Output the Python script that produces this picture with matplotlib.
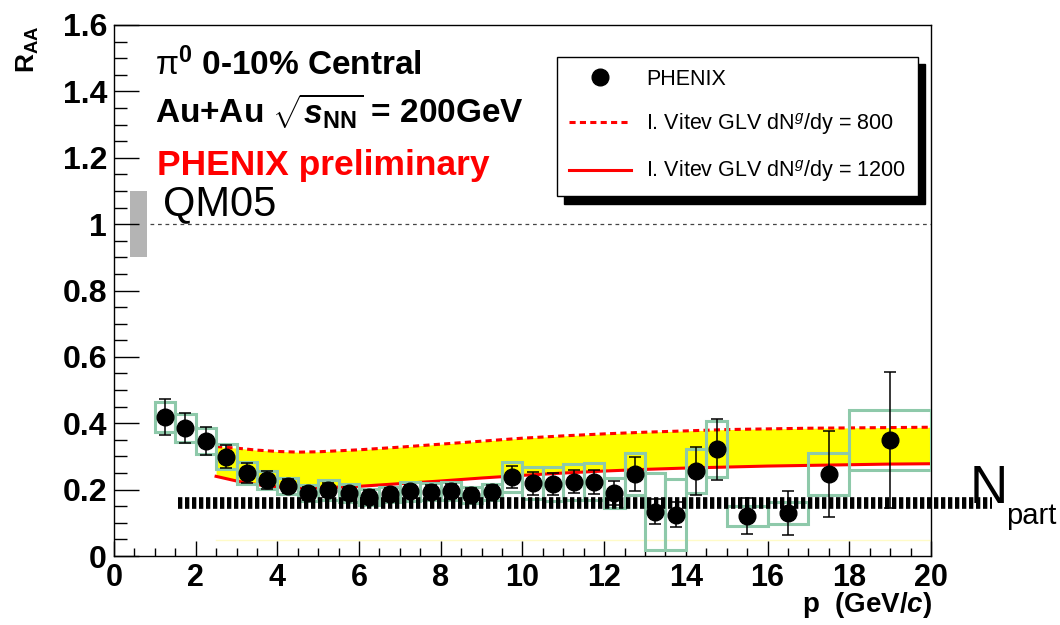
import numpy as np
import matplotlib.pyplot as plt
from matplotlib.patches import Rectangle
from matplotlib.lines import Line2D
from matplotlib.ticker import MultipleLocator

plt.rcParams["font.family"] = ["Liberation Sans", "DejaVu Sans"]
plt.rcParams["mathtext.fontset"] = "custom"
plt.rcParams["mathtext.rm"] = "Liberation Sans"
plt.rcParams["mathtext.it"] = "Liberation Sans:italic"
plt.rcParams["mathtext.bf"] = "Liberation Sans:bold"
plt.rcParams["mathtext.bfit"] = "Liberation Sans:bold:italic"

# ---- pi0 R_AA, 0-10% central Au+Au ----
pt = [1.25, 1.75, 2.25, 2.75, 3.25, 3.75, 4.25, 4.75, 5.25, 5.75, 6.25, 6.75,
      7.25, 7.75, 8.25, 8.75, 9.25, 9.75, 10.25, 10.75, 11.25, 11.75, 12.25,
      12.75, 13.25, 13.75, 14.25, 14.75, 15.5, 16.5, 17.5, 19.0]
raa = [0.419, 0.386, 0.347, 0.299, 0.251, 0.230, 0.211, 0.189, 0.199, 0.189,
       0.179, 0.186, 0.195, 0.194, 0.196, 0.184, 0.193, 0.238, 0.219, 0.217,
       0.224, 0.224, 0.191, 0.247, 0.134, 0.125, 0.257, 0.322, 0.121, 0.129,
       0.248, 0.350]
stat = [0.054, 0.046, 0.043, 0.035, 0.030, 0.027, 0.022, 0.020, 0.020, 0.020,
        0.020, 0.020, 0.020, 0.020, 0.021, 0.021, 0.022, 0.033, 0.034, 0.033,
        0.035, 0.036, 0.036, 0.050, 0.037, 0.038, 0.072, 0.092, 0.054, 0.066,
        0.130, 0.205]
syst = [0.044, 0.041, 0.040, 0.038, 0.033, 0.027, 0.025, 0.024, 0.029, 0.027,
        0.024, 0.022, 0.028, 0.026, 0.027, 0.025, 0.024, 0.045, 0.048, 0.050,
        0.054, 0.056, 0.045, 0.062, 0.115, 0.107, 0.066, 0.084, 0.030, 0.034,
        0.063, 0.090]
bin_half = [0.25] * 28 + [0.5, 0.5, 0.5, 1.0]

# ---- GLV curves (Vitev) ----
glv_pt = [2.5, 3.0, 3.5, 4.0, 4.5, 5.0, 6.0, 7.0, 8.0, 9.0, 10.0, 11.0, 12.0,
          13.0, 14.0, 15.0, 16.0, 17.0, 18.0, 19.0, 20.0]
glv_800 = [0.330, 0.325, 0.319, 0.315, 0.313, 0.314, 0.320, 0.328, 0.337,
           0.346, 0.355, 0.362, 0.368, 0.373, 0.377, 0.381, 0.383, 0.385,
           0.386, 0.387, 0.388]
glv_1200 = [0.240, 0.226, 0.215, 0.208, 0.205, 0.205, 0.210, 0.218, 0.226,
            0.235, 0.243, 0.250, 0.256, 0.261, 0.265, 0.268, 0.271, 0.273,
            0.275, 0.277, 0.278]

npart_level = 0.161
box_color = "#8ec9aa"

fig = plt.figure(figsize=(10.6, 6.25), dpi=100)
ax = fig.add_axes([0.1075, 0.1104, 0.7708, 0.8496])

# theory band
ax.fill_between(glv_pt, glv_1200, glv_800, color="#ffff00", lw=0, zorder=1)
l800, = ax.plot(glv_pt, glv_800, color="red", lw=2.2, ls=(0, (2.0, 1.4)),
                zorder=2)
l1200, = ax.plot(glv_pt, glv_1200, color="red", lw=2.2, zorder=2)
ax.plot([2.5, 20], [0.048, 0.048], color="#fffbc8", lw=1, zorder=1)

# reference lines
ax.axhline(1.0, xmin=0.88 / 20, xmax=1, color="#444444", lw=0.9,
           ls=(0, (3, 3)), zorder=1)
ax.add_patch(Rectangle((0.4, 0.9), 0.4, 0.2, color="#b4b4b4", lw=0, zorder=1))
ax.plot([1.57, 21.5], [npart_level, npart_level], color="black", lw=8.4,
        ls=(0, (0.37, 0.23)), dash_capstyle="butt",
        clip_on=False, zorder=4)

# systematic boxes
for x, y, s, hw in zip(pt, raa, syst, bin_half):
    ax.add_patch(Rectangle((x - hw, y - s), 2 * hw, 2 * s, fill=False,
                           ec=box_color, lw=2.2, zorder=3))

ax.errorbar(pt, raa, yerr=stat, fmt="o", color="black", ms=12, elinewidth=1.1,
            capsize=4, capthick=1.1, zorder=5)

ax.set_xlim(0, 20)
ax.set_ylim(0, 1.6)
ax.xaxis.set_major_locator(MultipleLocator(2))
ax.xaxis.set_minor_locator(MultipleLocator(0.5))
ax.yaxis.set_minor_locator(MultipleLocator(0.05))
ax.set_yticks([0, 0.2, 0.4, 0.6, 0.8, 1.0, 1.2, 1.4, 1.6])
ax.set_yticklabels(["0", "0.2", "0.4", "0.6", "0.8", "1", "1.2", "1.4", "1.6"])
ax.tick_params(axis="y", which="major", direction="in", length=18, width=1,
               labelsize=23, pad=5)
ax.tick_params(axis="y", which="minor", direction="in", length=9, width=1)
ax.tick_params(axis="x", which="major", direction="in", length=11, width=1,
               labelsize=22, pad=5)
ax.tick_params(axis="x", which="minor", direction="in", length=6, width=1)
for lab in ax.get_xticklabels() + ax.get_yticklabels():
    lab.set_fontweight("bold")
for sp in ax.spines.values():
    sp.set_linewidth(1.0)

# axis titles
fig.text(932 / 1060, 1 - 612 / 625, r"p  (GeV/$\mathbfit{c}$)", ha="right",
         va="baseline", fontsize=20, fontweight="bold")
fig.text(28 / 1060, 1 - 25 / 625, r"R$_{\mathbf{AA}}$", rotation=90,
         ha="center", va="top", fontsize=19, fontweight="bold")

# labels on the plot
ax.text(1.0, 1.449, r"$\mathrm{\pi}^{\mathbf{0}}$ 0-10% Central", fontsize=24,
        fontweight="bold")
ax.text(1.0, 1.305, r"Au+Au $\sqrt{\mathbfit{s}_{\mathbf{NN}}}$ = 200GeV",
        fontsize=24, fontweight="bold")
ax.text(1.05, 1.148, "PHENIX preliminary", fontsize=25.5, fontweight="bold",
        color="red")
ax.text(1.2, 1.027, "QM05", fontsize=30)

fig.text(970 / 1060, 1 - 503 / 625, "N", fontsize=38, ha="left",
         va="baseline")
fig.text(1006 / 1060, 1 - 524 / 625, "part", fontsize=21, ha="left",
         va="baseline")

phenix = Line2D([], [], marker="o", ls="none", color="black", ms=12)
leg = ax.legend([phenix, l800, l1200],
                ["PHENIX", "I. Vitev GLV dN$^{g}$/dy = 800",
                 "I. Vitev GLV dN$^{g}$/dy = 1200"],
                loc="upper right", bbox_to_anchor=(0.984, 0.94),
                borderaxespad=0, fontsize=15.5, frameon=True, fancybox=False,
                handlelength=2.9, labelspacing=1.0, borderpad=0.55,
                handletextpad=0.7,
                shadow={"ox": 5, "oy": -5.5, "color": "black", "alpha": 1})
leg.get_frame().set_edgecolor("black")
leg.get_frame().set_linewidth(1.0)

fig.savefig("out.png", dpi=100)
